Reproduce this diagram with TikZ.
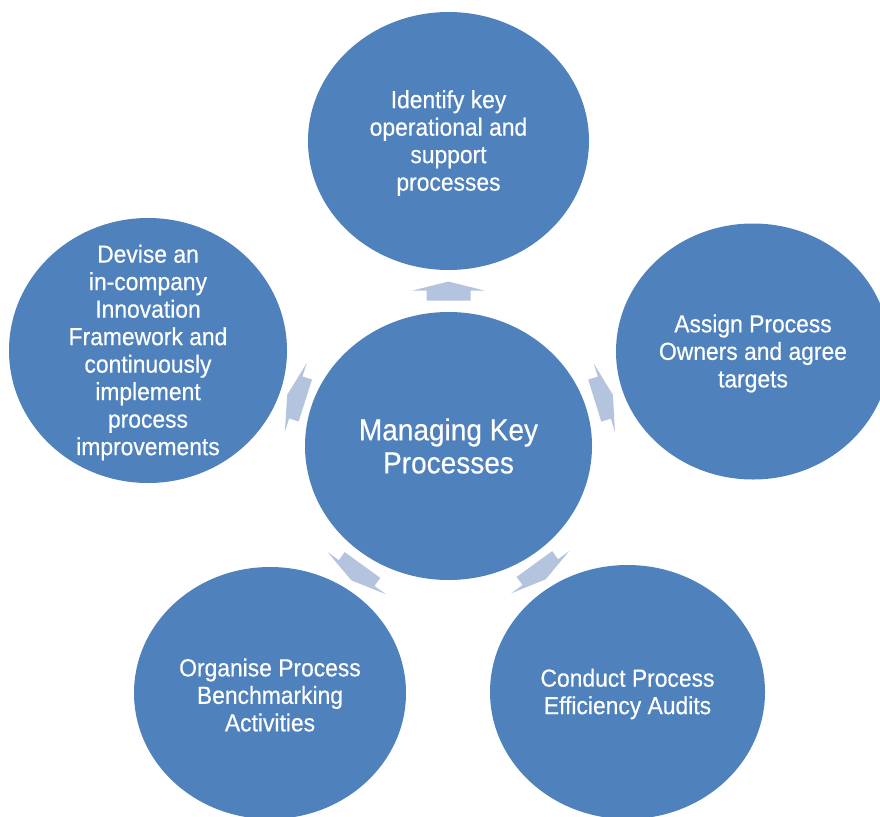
\documentclass[tikz,border=0pt]{standalone}
\usepackage{fontspec}
\setmainfont{Liberation Sans}[FakeStretch=0.925, FakeBold=0.4]
\usetikzlibrary{shapes.geometric,calc,backgrounds}

\definecolor{bubbleblue}{HTML}{4F81BD}
\definecolor{arrowblue}{HTML}{B4C3DE}

\tikzset{
  bubble/.style={ellipse, fill=bubbleblue, draw=none, inner sep=0pt},
  caption/.style={text=white, align=center, inner sep=0pt},
  hubtext/.style={caption, font=\fontsize{30.3}{33}\selectfont},
  spoketext/.style={caption, yshift=-2pt, font=\fontsize{24.7}{27.5}\selectfont},
  flowarrow/.style={fill=arrowblue, draw=none}
}

% Block arrow in the gap between two bubbles, pointing from #1 to #2
\newcommand\radialarrow[2]{%
  \path (#1) -- coordinate[pos=0.5] (m-#2) (#2);
  \coordinate (tip-#2) at ($(m-#2)!9.5pt!(#2)$);
  \coordinate (h-#2) at ($(m-#2)!0.5pt!(#2)$);
  \coordinate (b-#2) at ($(m-#2)!-9.5pt!(#2)$);
  \fill[flowarrow] (tip-#2)
    -- ($(h-#2)!36pt!90:(#2)$) -- ($(h-#2)!22pt!90:(#2)$)
    -- ($(b-#2)!22pt!90:(#2)$) -- ($(b-#2)!22pt!-90:(#2)$)
    -- ($(h-#2)!22pt!-90:(#2)$) -- ($(h-#2)!36pt!-90:(#2)$) -- cycle;
}

\begin{document}
\begin{tikzpicture}[x=1pt, y=-1pt]
\useasboundingbox (0,0) rectangle (880,816);

% hub and surrounding steps
\node[bubble, minimum width=287pt, minimum height=268pt] (c) at (448.5,446) {};
\node[bubble, minimum width=281pt, minimum height=258pt] (t) at (448.5,141) {};
\node[bubble, minimum width=274pt, minimum height=256pt] (r) at (753,351.5) {};
\node[bubble, minimum width=275pt, minimum height=254pt] (br) at (627.5,692) {};
\node[bubble, minimum width=272pt, minimum height=252pt] (bl) at (270,693) {};
\node[bubble, minimum width=278pt, minimum height=265pt] (l) at (148,350.5) {};

\node[hubtext] (c-text) at (c) {Managing Key\\Processes};
\node[spoketext] (t-text) at (t) {Identify key\\operational and\\support\\processes};
\node[spoketext] (r-text) at (r) {Assign Process\\Owners and agree\\targets};
\node[spoketext] (br-text) at (br) {Conduct Process\\Efficiency Audits};
\node[spoketext] (bl-text) at (bl) {Organise Process\\Benchmarking\\Activities};
\node[spoketext] (l-text) at (l) {Devise an\\in-company\\Innovation\\Framework and\\continuously\\implement\\process\\improvements};

% arrows from the hub outwards
\begin{scope}[on background layer]
  \radialarrow{c}{t}
  \radialarrow{c}{r}
  \radialarrow{c}{br}
  \radialarrow{c}{bl}
  \radialarrow{c}{l}
\end{scope}
\end{tikzpicture}
\end{document}
